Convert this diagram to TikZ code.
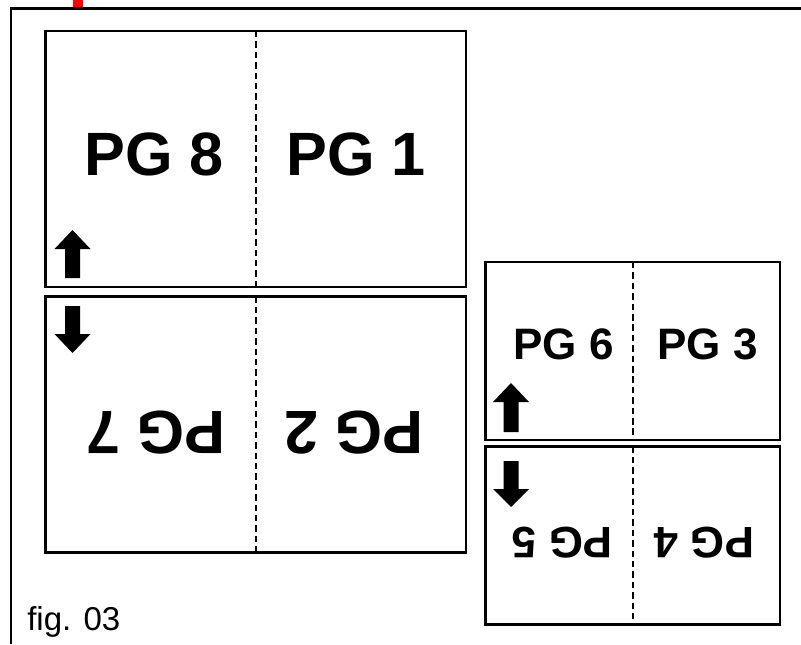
\documentclass[tikz,border=0pt]{standalone}
\usepackage{fontspec}
\setmainfont{Liberation Sans}
\begin{document}
\begin{tikzpicture}[x=0.025cm,y=-0.025cm,
		sheet/.style={line width=1.8pt},
		fold/.style={line width=1.4pt, dash pattern=on 4.6pt off 2.8pt},
		bigpg/.style={inner sep=0pt, font=\fontsize{43.5}{44}\selectfont\bfseries},
		smallpg/.style={inner sep=0pt, font=\fontsize{31.3}{32}\selectfont\bfseries}]
			\useasboundingbox (0,0) rectangle (801,644);
			
			%Frame
			\fill [red] (73,0) rectangle (83,8);
			\draw [line width=1.7pt] (801,8.5) -- (11,8.5) -- (11,644);
			
			%Large sheet, upper half
			\draw[sheet] (45.5,31) rectangle (466,287);
			\draw[fold] (256,31) -- (256,287);
			\node[bigpg] (P8) at (154,154) {PG 8};
			\node[bigpg] (P1) at (356,154) {PG 1};
			
			%Large sheet, lower half
			\def\o{265.5}
			\draw[sheet] (45.5,31+\o) rectangle (466,287+\o);
			\draw[fold] (256,31+\o) -- (256,287+\o);
			\node[bigpg, rotate=180] (P7) at (156,433) {PG 7};
			\node[bigpg, rotate=180] (P2) at (354,433) {PG 2};
			
			%Small sheet, upper half
			\draw[sheet] (485.5,262) rectangle (780,440);
			\draw[fold] (633,262) -- (633,440);
			\node[smallpg] (P6) at (563.5,344) {PG 6};
			\node[smallpg] (P3) at (707.5,344) {PG 3};
			
			%Small sheet, lower half
			\def\o{184.5}
			\draw[sheet] (485.5,262+\o) rectangle (780,440+\o);
			\draw[fold] (633,262+\o) -- (633,440+\o);
			\node[smallpg, rotate=180] (P5) at (562.5,543) {PG 5};
			\node[smallpg, rotate=180] (P4) at (704,543) {PG 4};
			
			%Arrows up
			\def\x{72.5}
			\def\y{230}
			\fill (\x,\y) -- (\x+18,\y+19) -- (\x+7.5,\y+19) -- (\x+7.5,\y+48) -- (\x-7.5,\y+48) -- (\x-7.5,\y+19) -- (\x-18,\y+19) -- cycle;
			\def\x{511}
			\def\y{383}
			\fill (\x,\y) -- (\x+18,\y+19) -- (\x+7.5,\y+19) -- (\x+7.5,\y+49) -- (\x-7.5,\y+49) -- (\x-7.5,\y+19) -- (\x-18,\y+19) -- cycle;
			
			%Arrows down
			\def\x{72.5}
			\def\y{353}
			\fill (\x,\y) -- (\x+18,\y-19) -- (\x+7.5,\y-19) -- (\x+7.5,\y-47) -- (\x-7.5,\y-47) -- (\x-7.5,\y-19) -- (\x-18,\y-19) -- cycle;
			\def\x{511}
			\def\y{507}
			\fill (\x,\y) -- (\x+18,\y-18) -- (\x+7.5,\y-18) -- (\x+7.5,\y-46) -- (\x-7.5,\y-46) -- (\x-7.5,\y-18) -- (\x-18,\y-18) -- cycle;
			
			\node[anchor=base west, inner sep=0pt, font=\fontsize{23.5}{24}\selectfont] (F3) at (27,630) {fig. 03};
			
		\end{tikzpicture}
\end{document}
